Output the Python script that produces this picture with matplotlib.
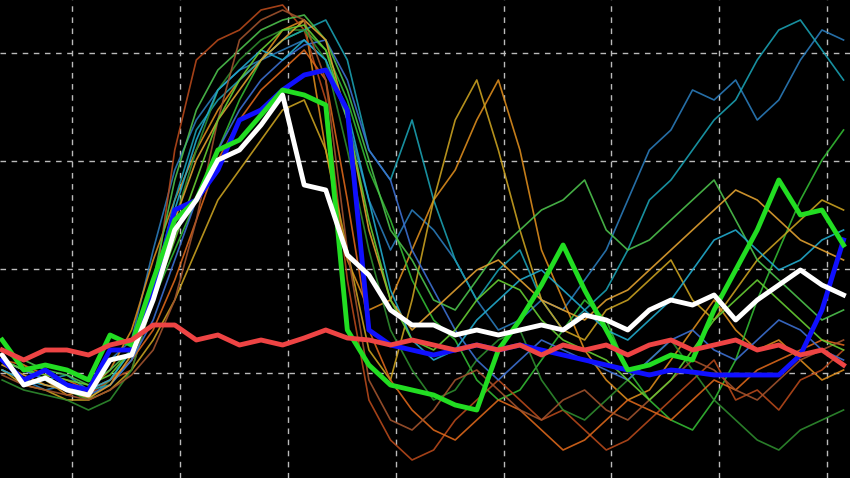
import matplotlib
matplotlib.use("Agg")
import matplotlib.pyplot as plt
import numpy as np

# y values read in screen units (0 = top, 478 = bottom); x = sample index
thin_colors = ["#2a7ab8", "#d98a1c", "#33b833", "#b5481a", "#1a9fb0", "#c8a020", "#2e8b2e",
               "#d9661a", "#3c6fd0", "#4cc04c", "#22aacc", "#e0a030", "#a0522d", "#66cc33"]
thin_lines = [
 [370,380,390,385,395,360,340,250,170,120,90,70,60,50,40,60,120,200,250,210,230,260,300,330,320,300,310,280,250,200,150,130,90,100,80,120,100,60,30,40],
 [360,370,380,395,390,370,330,260,200,150,110,80,60,30,20,150,260,310,300,250,200,170,120,80,150,250,300,350,380,400,390,360,330,300,330,350,340,360,380,370],
 [350,365,380,390,400,380,350,300,250,200,150,100,60,40,30,50,100,170,220,280,320,340,380,400,390,360,330,300,320,370,400,420,430,400,360,300,250,200,160,130],
 [370,380,385,390,395,380,370,300,150,60,40,30,10,5,30,100,280,400,440,460,450,420,400,380,400,420,410,430,450,440,420,400,380,360,400,390,410,380,370,350],
 [360,370,380,375,390,385,360,290,200,130,100,80,60,40,30,20,60,150,180,120,200,260,300,270,250,300,330,310,290,250,200,180,150,120,100,60,30,20,50,80],
 [370,385,390,400,400,390,370,340,300,250,200,170,140,110,100,150,250,350,380,300,200,120,80,150,230,300,330,340,310,300,280,260,300,320,290,260,240,220,200,210],
 [380,390,395,400,410,400,370,300,220,150,90,60,40,30,30,60,150,250,330,370,400,390,360,340,330,380,410,420,400,380,360,340,370,400,420,440,450,430,420,410],
 [360,365,375,380,390,380,360,330,280,220,160,120,90,70,50,80,200,330,380,410,430,440,420,400,410,430,450,440,420,400,410,420,400,380,390,370,360,350,340,345],
 [360,370,380,385,395,385,360,320,260,200,150,110,80,60,45,40,80,150,180,250,290,330,360,380,360,340,350,360,370,380,360,340,330,350,360,340,320,330,350,360],
 [350,360,370,375,385,370,350,280,180,110,70,50,30,20,15,40,90,160,230,260,300,310,280,250,230,210,200,180,230,250,240,220,200,180,220,260,280,300,320,310],
 [370,380,385,390,390,380,350,290,210,140,90,70,50,60,40,60,110,200,290,340,360,350,320,300,280,270,290,310,330,340,320,300,270,240,230,250,270,260,240,230],
 [365,375,385,390,398,385,355,300,220,160,120,90,60,40,20,40,120,230,300,330,310,290,270,260,280,300,310,320,300,290,270,250,230,210,190,200,220,240,250,260],
 [375,385,390,395,400,390,375,350,300,220,120,40,20,10,20,80,250,380,420,430,410,380,370,390,410,420,400,390,410,420,400,380,360,370,390,400,380,360,350,340],
 [360,370,375,380,385,375,350,300,240,180,120,80,50,30,25,50,120,220,300,340,350,330,300,280,290,320,340,350,360,380,400,380,350,320,300,280,300,320,340,350],
]
blue_thick = [360,380,370,385,390,350,350,290,210,200,170,120,110,90,75,70,110,330,345,350,355,350,345,350,345,350,355,360,365,370,375,370,372,375,375,375,375,355,310,240]
green_thick = [340,370,365,370,380,335,345,280,220,200,150,140,115,90,95,105,330,365,385,390,395,405,410,350,320,285,245,290,330,370,365,355,360,310,270,230,180,215,210,245]
white_thick = [355,385,378,390,395,360,355,300,230,200,160,150,125,95,185,190,255,275,310,325,325,335,330,335,330,325,330,315,320,330,310,300,305,295,320,300,285,270,285,295]
red_thick = [350,360,350,350,355,345,340,325,325,340,335,345,340,345,338,330,338,340,345,340,345,350,345,350,345,355,345,350,345,355,345,340,350,345,340,350,345,355,350,365]

fig = plt.figure(figsize=(8.5, 4.78), dpi=100, facecolor="black")
ax = fig.add_axes([0, 0, 1, 1])
ax.set_facecolor("black")
x = np.arange(40)
for c, ys in zip(thin_colors, thin_lines):
    ax.plot(x, ys, color=c, lw=1.2, alpha=0.9)
ax.plot(x, blue_thick, color="#1010ff", lw=3.5)
ax.plot(x, green_thick, color="#22dd22", lw=3.5)
ax.plot(x, white_thick, color="white", lw=3.5)
ax.plot(x, red_thick, color="#ee4444", lw=3.5)
ax.set_xlim(-0.1, 39.3)
ax.set_ylim(478, 0)
ax.set_xticks([3.24 + 5 * k for k in range(8)])
ax.set_yticks([53, 161, 269, 373])
ax.grid(True, color="#bbbbbb", ls=(0, (4, 4)), lw=1)
ax.tick_params(length=0, labelleft=False, labelbottom=False)
for s in ax.spines.values():
    s.set_visible(False)
fig.savefig("out.png", dpi=100, facecolor="black")
